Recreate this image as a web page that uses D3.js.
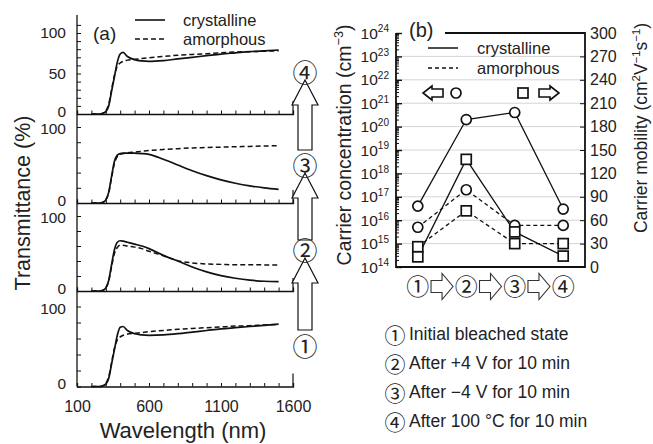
<!DOCTYPE html>
<html>
<head>
<meta charset="utf-8">
<script src="https://cdn.jsdelivr.net/npm/d3@7"></script>
<style>
body { margin: 0; background: #fff; }
svg { display: block; font-family: 'Liberation Sans', Arial, sans-serif; }
.circ { font-family: 'Noto Sans CJK JP', sans-serif; }
.axis text { font-family: 'Liberation Sans', Arial, sans-serif; fill: #222; }
.axis line, .axis path { stroke: #111; }
</style>
</head>
<body>
<svg></svg>
<script>
// ---- data ----
let wavelength = [200, 260, 280, 300, 320, 340, 360, 380, 400, 420, 450, 500, 550, 600, 700, 800, 900, 1000, 1100, 1200, 1300, 1400, 1500];
let crys1 = [0, 0, 1, 3, 10, 28, 46, 64, 74, 75, 70, 66, 64.5, 64, 64.5, 66, 68, 70, 72, 73.5, 75, 76.5, 78];
let amor1 = [0, 0, 1, 4, 12, 30, 48, 58, 62, 64, 65.5, 66.5, 67.5, 68.5, 70, 71.5, 72.5, 73.5, 74.5, 75.5, 76, 77, 77.5];
let crys2 = [0, 0, 1, 4, 14, 35, 55, 65, 67, 66.5, 65, 62.5, 60, 56.5, 47.5, 40, 32, 25.5, 20.5, 17, 14.5, 13, 12.5];
let amor2 = [0, 0, 1, 4, 13, 32, 50, 58, 61, 61, 60, 58.5, 56.5, 53, 47, 40.5, 37.5, 36, 35.5, 35, 35, 34.8, 34.7];
let crys3 = [0, 0, 1, 4, 14, 35, 55, 63, 65, 65.5, 65.5, 65.5, 65, 64, 57.5, 50, 42.5, 36, 30.5, 26, 22.5, 20, 18];
let amor3 = [0, 0, 1, 4, 13, 33, 52, 61, 64, 65, 66, 67, 68, 69, 70.5, 71.5, 72.5, 73, 73.5, 74, 74.5, 75, 75.4];
let crys4 = [0, 0, 1, 3, 10, 28, 46, 64, 74, 76, 71, 67, 65.5, 65, 66, 68, 70, 72, 74, 75.5, 77, 78, 79];
let amor4 = [0, 0, 1, 4, 12, 30, 48, 59, 63, 65, 66.5, 67.5, 68.5, 69.5, 71, 72.5, 73.5, 74.5, 75.5, 76.5, 77, 77.5, 78];

let states = ['①', '②', '③', '④'];
let concCrys = [4e16, 2e20, 4e20, 3e16];
let concAmor = [5e15, 2e17, 6e15, 6e15];
let mobCrys = [13, 138, 45, 14];
let mobAmor = [26, 72, 30, 30];

let decades = d3.range(14, 25);
let mobTicks = d3.range(0, 301, 30);
let waveTicks = [100, 600, 1100, 1600];
let notes = ['Initial bleached state', 'After +4 V for 10 min', 'After \u22124 V for 10 min', 'After 100 \u00b0C for 10 min'];

// ---- layout ----
let width = 653;
let height = 444;
let svg = d3.select('svg').attr('width', width).attr('height', height);
let ink = '#111';
let textCol = '#222';

function richText(sel, parts, size) {
    let shift = 0;
    parts.forEach(([t, sup]) => {
        let target = sup ? -size * 0.4 : 0;
        sel.append('tspan')
            .attr('dy', target - shift)
            .attr('font-size', sup ? size * 0.65 : size)
            .text(t);
        shift = target;
    });
}

// hollow block arrow pointing right, centred at 0,0
function arrowPath(len, head, shaft, headW) {
    let a = -len / 2, b = len / 2 - head, c = len / 2;
    return `M${a},${-shaft}L${b},${-shaft}L${b},${-headW}L${c},0L${b},${headW}L${b},${shaft}L${a},${shaft}Z`;
}

/**
 * panel (a)
 */
let ga = svg.append('g');
let x = d3.scaleLinear().domain([100, 1600]).range([77, 293]);

let panels = [
    { c: crys4, a: amor4, y0: 114, y100: 33, step: 10, maxTick: 110, labels: [0, 50, 100] },
    { c: crys3, a: amor3, y0: 203, y100: 127, step: 20, maxTick: 100, labels: [0, 100] },
    { c: crys2, a: amor2, y0: 291, y100: 216, step: 20, maxTick: 100, labels: [0, 100] },
    { c: crys1, a: amor1, y0: 386.5, y100: 306.5, step: 20, maxTick: 100, labels: [0, 100] }
];

ga.append('line')
    .attr('x1', x(100)).attr('x2', x(100))
    .attr('y1', 15).attr('y2', 386.5)
    .attr('stroke', ink).attr('stroke-width', 1.3);

panels.forEach((p, k) => {
    let y = d3.scaleLinear().domain([0, 100]).range([p.y0, p.y100]);

    let yAxis = d3.axisLeft(y)
        .tickValues(d3.range(0, p.maxTick + 1, p.step))
        .tickSize(-4)
        .tickPadding(11)
        .tickFormat(d => p.labels.includes(d) ? d : '');
    let yl = ga.append('g').attr('class', 'axis')
        .attr('transform', `translate(${x(100)},0)`)
        .call(yAxis);
    yl.select('.domain').remove();
    yl.selectAll('text').attr('font-size', 15.5)
        .attr('dy', d => d === 0 ? '0.15em' : (d === 100 && k > 0 ? '0.45em' : '0.32em'));

    let xAxis = d3.axisBottom(x)
        .tickValues(d3.range(100, 1601, 100))
        .tickSize(-3.5)
        .tickFormat('');
    let xl = ga.append('g').attr('class', 'axis')
        .attr('transform', `translate(0,${p.y0})`)
        .call(xAxis);
    xl.select('.domain').attr('stroke-width', 1.3);
    ga.append('line')
        .attr('x1', x(1600)).attr('x2', x(1600))
        .attr('y1', p.y0).attr('y2', p.y0 - 13)
        .attr('stroke', ink).attr('stroke-width', 1.2);

    let line = d3.line()
        .x((d, i) => x(wavelength[i]))
        .y(d => y(d))
        .curve(d3.curveMonotoneX);

    ga.append('path').datum(p.a)
        .attr('d', line).attr('fill', 'none')
        .attr('stroke', ink).attr('stroke-width', 1.5)
        .attr('stroke-dasharray', '5,3');
    ga.append('path').datum(p.c)
        .attr('d', line).attr('fill', 'none')
        .attr('stroke', ink).attr('stroke-width', 1.7);

    if (k === panels.length - 1) {
        let bl = ga.append('g').attr('class', 'axis')
            .attr('transform', `translate(0,${p.y0})`)
            .call(d3.axisBottom(x).tickValues(waveTicks).tickSize(0).tickPadding(14).tickFormat(d3.format('d')));
        bl.select('.domain').remove();
        bl.selectAll('text').attr('font-size', 16);
    }
});

ga.append('text')
    .attr('transform', 'translate(30,203) rotate(-90)')
    .attr('text-anchor', 'middle')
    .attr('font-size', 21.5).attr('fill', textCol)
    .text('Transmittance (%)');
ga.append('text')
    .attr('x', 183).attr('y', 437.5)
    .attr('text-anchor', 'middle')
    .attr('font-size', 22).attr('fill', textCol)
    .text('Wavelength (nm)');

ga.append('text')
    .attr('x', 93).attr('y', 33)
    .attr('dominant-baseline', 'central')
    .attr('font-size', 19).attr('fill', textCol)
    .text('(a)');

// legend (a)
[['crystalline', null, 20], ['amorphous', '5,3', 39]].forEach(([label, dash, ly]) => {
    ga.append('line')
        .attr('x1', 135).attr('x2', 165).attr('y1', ly).attr('y2', ly)
        .attr('stroke', ink).attr('stroke-width', 1.6)
        .attr('stroke-dasharray', dash);
    ga.append('text')
        .attr('x', 183).attr('y', ly)
        .attr('dominant-baseline', 'central')
        .attr('font-size', 16.5).attr('fill', textCol)
        .text(label);
});

// step arrows and state numbers beside panel (a)
let upArrows = [[330, 258], [240, 173], [150, 80]];
upArrows.forEach(([yb, yt]) => {
    let len = yb - yt;
    ga.append('path')
        .attr('d', arrowPath(len, 25, 7, 13))
        .attr('transform', `translate(305,${(yb + yt) / 2}) rotate(-90)`)
        .attr('fill', '#fff').attr('stroke', ink).attr('stroke-width', 1.2);
});
let stateY = [345, 249, 164, 71];
states.forEach((s, i) => {
    ga.append('text')
        .attr('class', 'circ')
        .attr('x', 305).attr('y', stateY[i])
        .attr('text-anchor', 'middle')
        .attr('dominant-baseline', 'central')
        .attr('font-size', 25).attr('fill', textCol)
        .text(s);
});

/**
 * panel (b)
 */
let gb = svg.append('g');
let bLeft = 396, bRight = 585, bTop = 33, bBottom = 267;
let xb = d3.scalePoint().domain(states).range([bLeft, bRight]).padding(0.45);
let yL = d3.scaleLog().domain([1e14, 1e24]).range([bBottom, bTop]);
let yR = d3.scaleLinear().domain([0, 300]).range([bBottom, bTop]);

// grid
gb.selectAll('.grid').data(decades.slice(1, -1)).enter()
    .append('line')
    .attr('x1', bLeft).attr('x2', bRight)
    .attr('y1', d => yL(Math.pow(10, d))).attr('y2', d => yL(Math.pow(10, d)))
    .attr('stroke', '#d4d4d4').attr('stroke-width', 1);

// left log axis, decade ticks and minor ticks
let minor = [];
decades.slice(0, -1).forEach(e => d3.range(2, 10).forEach(m => minor.push(m * Math.pow(10, e))));
let lMinor = gb.append('g').attr('class', 'axis')
    .attr('transform', `translate(${bLeft},0)`)
    .call(d3.axisLeft(yL).tickValues(minor).tickSize(-3).tickFormat(''));
lMinor.select('.domain').remove();
let lMajor = gb.append('g').attr('class', 'axis')
    .attr('transform', `translate(${bLeft},0)`)
    .call(d3.axisLeft(yL).tickValues(decades.map(e => Math.pow(10, e))).tickSize(-6).tickFormat(''));
lMajor.select('.domain').remove();
lMajor.selectAll('line').attr('stroke-width', 1.4);

decades.forEach(e => {
    let t = gb.append('text')
        .attr('x', 389).attr('y', yL(Math.pow(10, e)) + 5.5)
        .attr('text-anchor', 'end')
        .attr('fill', textCol);
    richText(t, [['10', false], [String(e), true]], 15.5);
});

// right linear axis
let rAxis = gb.append('g').attr('class', 'axis')
    .attr('transform', `translate(${bRight},0)`)
    .call(d3.axisRight(yR).tickValues(mobTicks).tickSize(-5).tickPadding(5));
rAxis.select('.domain').remove();
rAxis.selectAll('text').attr('font-size', 16);

// frame
gb.append('path')
    .attr('d', `M${bLeft},${bTop}V${bBottom}H${bRight}V${bTop}H445`)
    .attr('fill', 'none').attr('stroke', ink).attr('stroke-width', 1.8);

gb.append('text')
    .attr('x', 409).attr('y', 30)
    .attr('dominant-baseline', 'central')
    .attr('font-size', 20).attr('fill', textCol)
    .text('(b)');

// series
let series = [
    { v: concAmor, y: yL, dash: '4,3', shape: 'circle' },
    { v: mobAmor, y: yR, dash: '4,3', shape: 'square' },
    { v: concCrys, y: yL, dash: null, shape: 'circle' },
    { v: mobCrys, y: yR, dash: null, shape: 'square' }
];
series.forEach(s => {
    let line = d3.line().x((d, i) => xb(states[i])).y(d => s.y(d));
    gb.append('path').datum(s.v)
        .attr('d', line).attr('fill', 'none')
        .attr('stroke', ink).attr('stroke-width', 1.3)
        .attr('stroke-dasharray', s.dash);
});
series.forEach(s => {
    let sel = gb.selectAll(null).data(s.v).enter();
    if (s.shape === 'circle') {
        sel.append('circle')
            .attr('cx', (d, i) => xb(states[i])).attr('cy', d => s.y(d)).attr('r', 5)
            .attr('fill', '#fff').attr('stroke', ink).attr('stroke-width', 1.7);
    } else {
        sel.append('rect')
            .attr('x', (d, i) => xb(states[i]) - 5).attr('y', d => s.y(d) - 5)
            .attr('width', 10).attr('height', 10)
            .attr('fill', '#fff').attr('stroke', ink).attr('stroke-width', 1.7);
    }
});

// legend (b)
[['crystalline', null, 48], ['amorphous', '4,3', 68]].forEach(([label, dash, ly]) => {
    gb.append('line')
        .attr('x1', 428).attr('x2', 458).attr('y1', ly).attr('y2', ly)
        .attr('stroke', ink).attr('stroke-width', 1.5)
        .attr('stroke-dasharray', dash);
    gb.append('text')
        .attr('x', 477).attr('y', ly)
        .attr('dominant-baseline', 'central')
        .attr('font-size', 16.5).attr('fill', textCol)
        .text(label);
});
gb.append('path')
    .attr('d', arrowPath(20, 9, 4, 7))
    .attr('transform', 'translate(433,93) rotate(180)')
    .attr('fill', '#fff').attr('stroke', ink).attr('stroke-width', 1.6);
gb.append('circle')
    .attr('cx', 456).attr('cy', 93).attr('r', 5)
    .attr('fill', '#fff').attr('stroke', ink).attr('stroke-width', 1.7);
gb.append('rect')
    .attr('x', 518).attr('y', 88).attr('width', 10).attr('height', 10)
    .attr('fill', '#fff').attr('stroke', ink).attr('stroke-width', 1.7);
gb.append('path')
    .attr('d', arrowPath(20, 9, 4, 7))
    .attr('transform', 'translate(549,93)')
    .attr('fill', '#fff').attr('stroke', ink).attr('stroke-width', 1.6);

// state sequence under panel (b)
states.forEach((s, i) => {
    gb.append('text')
        .attr('class', 'circ')
        .attr('x', xb(s)).attr('y', 285)
        .attr('text-anchor', 'middle')
        .attr('dominant-baseline', 'central')
        .attr('font-size', 23).attr('fill', textCol)
        .text(s);
    if (i < states.length - 1) {
        let mx = (xb(s) + xb(states[i + 1])) / 2;
        gb.append('path')
            .attr('d', arrowPath(22, 11, 6, 13))
            .attr('transform', `translate(${mx},286.5)`)
            .attr('fill', '#fff').attr('stroke', '#333').attr('stroke-width', 1.1);
    }
});

// axis titles (b)
let lt = gb.append('text')
    .attr('transform', 'translate(351,145) rotate(-90)')
    .attr('text-anchor', 'middle')
    .attr('fill', textCol);
richText(lt, [['Carrier concentration (cm', false], ['\u22123', true], [')', false]], 19.5);

let rt = gb.append('text')
    .attr('transform', 'translate(647,128) rotate(-90)')
    .attr('text-anchor', 'middle')
    .attr('fill', textCol);
richText(rt, [['Carrier mobility (cm', false], ['2', true], ['V', false], ['\u22121', true], ['s', false], ['\u22121', true], [')', false]], 17.5);

// notes
notes.forEach((n, i) => {
    let ny = 334 + i * 29;
    gb.append('text')
        .attr('class', 'circ')
        .attr('x', 395).attr('y', ny)
        .attr('text-anchor', 'middle')
        .attr('dominant-baseline', 'central')
        .attr('font-size', 21).attr('fill', textCol)
        .text(states[i]);
    gb.append('text')
        .attr('x', 409).attr('y', ny)
        .attr('dominant-baseline', 'central')
        .attr('font-size', 17.5).attr('fill', textCol)
        .text(n);
});
</script>
</body>
</html>
